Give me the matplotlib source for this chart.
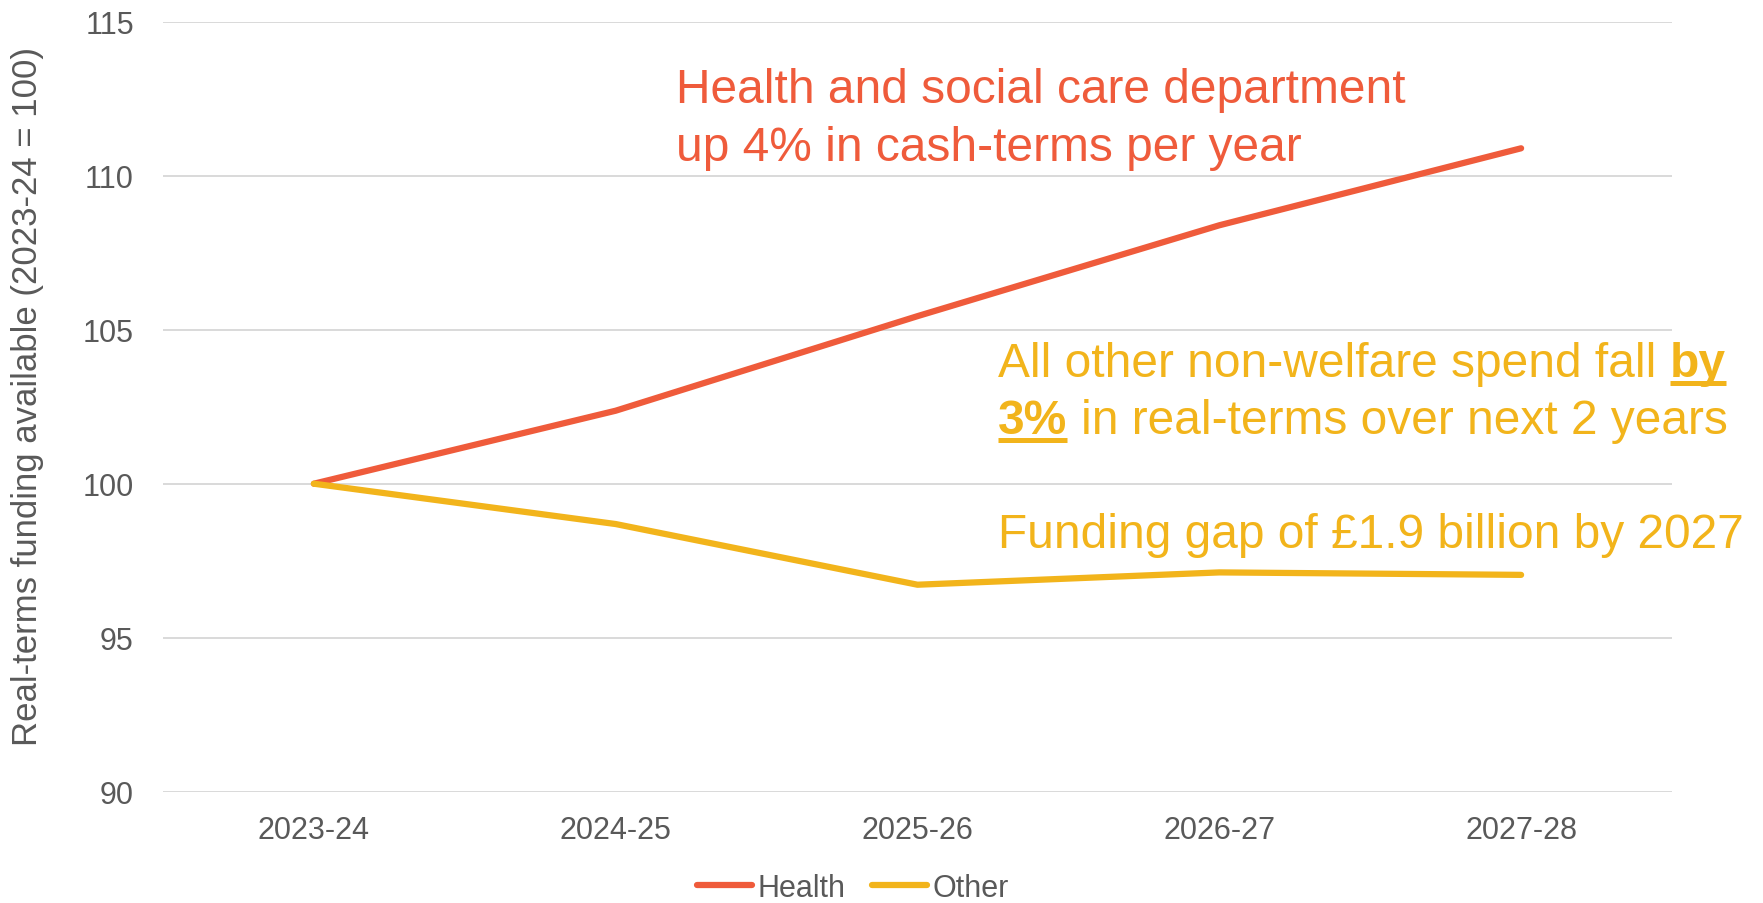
import matplotlib
matplotlib.use('Agg')
import matplotlib.pyplot as plt
from matplotlib.lines import Line2D

plt.rcParams['font.family'] = ['Liberation Sans', 'DejaVu Sans']

years = ['2023-24', '2024-25', '2025-26', '2026-27', '2027-28']
health = [100.0, 102.37, 105.44, 108.39, 110.89]
other = [100.0, 98.69, 96.72, 97.12, 97.04]

RED = '#EF5B3B'
YELLOW = '#F2B41B'
GREY = '#595959'
GRID = '#D9D9D9'

fig = plt.figure(figsize=(17.63, 9.04), dpi=100)
ax = fig.add_axes([163 / 1763, 1 - 792.7 / 904, 1509 / 1763, 770 / 904])

x = list(range(len(years)))
ax.plot(x, health, color=RED, lw=4.5, solid_capstyle='round',
        solid_joinstyle='round', label='Health')
ax.plot(x, other, color=YELLOW, lw=4.5, solid_capstyle='round',
        solid_joinstyle='round', label='Other')

ax.set_xlim(-0.5, len(years) - 0.5)
ax.set_ylim(90, 115)
ax.set_yticks([90, 95, 100, 105, 110, 115])
ax.set_xticks(x)
ax.set_xticklabels(years)
ax.tick_params(axis='both', length=0, labelsize=22, labelcolor=GREY)
ax.tick_params(axis='y', pad=21)
ax.tick_params(axis='x', pad=17)
ax.grid(axis='y', color=GRID, lw=1.4)
ax.set_axisbelow(True)
for side in ['top', 'right', 'left', 'bottom']:
    ax.spines[side].set_visible(False)

fig.text(28 / 1763, 0.5614, 'Real-terms funding available (2023-24 = 100)',
         rotation=90, ha='center', va='center', fontsize=25, color=GREY)

# annotations
fs = 34.5
gap = fs * 0.278
ax.text(0.340, 0.8953, 'Health and social care department', transform=ax.transAxes,
        fontsize=fs, color=RED, va='baseline', ha='left')
ax.text(0.340, 0.8204, 'up 4% in cash-terms per year', transform=ax.transAxes,
        fontsize=fs, color=RED, va='baseline', ha='left')

t1 = ax.text(0.5534, 0.5403, 'All other non-welfare spend fall', transform=ax.transAxes,
             fontsize=fs, color=YELLOW, va='baseline', ha='left')
b1 = ax.annotate('by', xy=(1, 0), xycoords=t1, xytext=(gap, 0), textcoords='offset points',
                 fontsize=fs, color=YELLOW, fontweight='bold', va='bottom', ha='left')
b2 = ax.text(0.5534, 0.4658, '3%', transform=ax.transAxes,
             fontsize=fs, color=YELLOW, fontweight='bold', va='baseline', ha='left')
ax.annotate('in real-terms over next 2 years', xy=(1, 0), xycoords=b2, xytext=(gap, 0),
            textcoords='offset points', fontsize=fs, color=YELLOW, va='bottom', ha='left')
ax.text(0.5534, 0.3178, 'Funding gap of £1.9 billion by 2027', transform=ax.transAxes,
        fontsize=fs, color=YELLOW, va='baseline', ha='left')

fig.legend(loc='center', bbox_to_anchor=(853 / 1763, 1 - 889 / 904), ncol=2,
           frameon=False, fontsize=22, handlelength=1.8, handletextpad=0.2,
           columnspacing=0.85, borderpad=0, labelcolor=GREY)

# underline the bold words
fig.canvas.draw()
renderer = fig.canvas.get_renderer()
for tb, base_y in [(b1, 0.5403), (b2, 0.4658)]:
    bb = tb.get_window_extent(renderer)
    _, py = ax.transAxes.transform((0, base_y))
    fig.add_artist(Line2D([bb.x0, bb.x1], [py - 7, py - 7], transform=None,
                          color=YELLOW, lw=3.6, solid_capstyle='butt'))

fig.savefig('out.png', dpi=100, facecolor='white')
